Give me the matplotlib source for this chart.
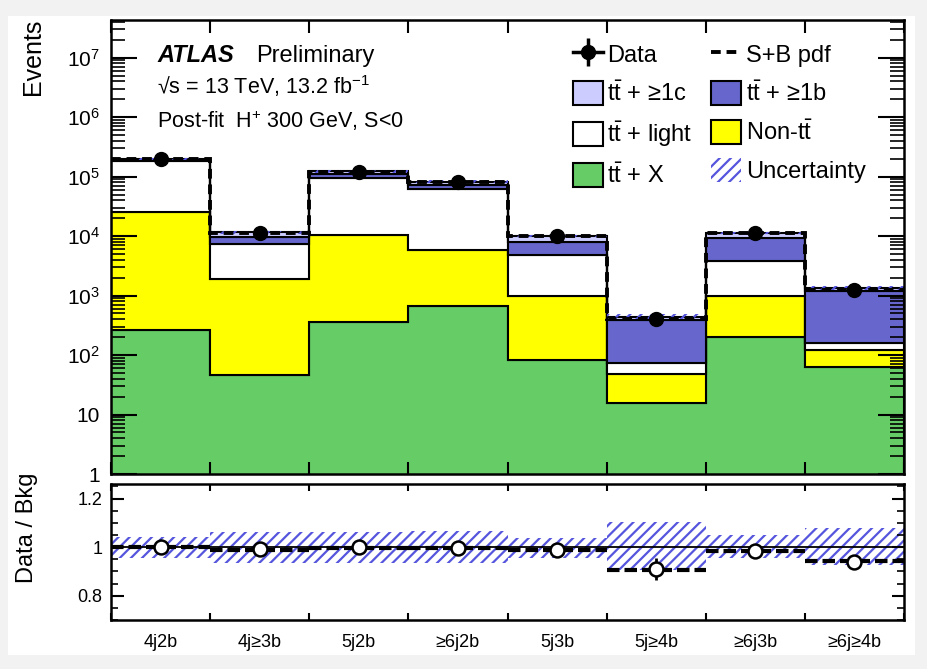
import numpy as np
import matplotlib.pyplot as plt
from matplotlib.lines import Line2D
from matplotlib.patches import Patch, Rectangle
from matplotlib.ticker import LogLocator, FixedLocator, MultipleLocator, FuncFormatter, NullFormatter

plt.rcParams['font.family'] = ['Liberation Sans', 'DejaVu Sans']
plt.rcParams['mathtext.fontset'] = 'custom'
plt.rcParams['mathtext.rm'] = 'Liberation Sans'
plt.rcParams['mathtext.it'] = 'Liberation Sans:italic'
plt.rcParams['mathtext.bf'] = 'Liberation Sans:bold'
plt.rcParams['hatch.linewidth'] = 1.6

# analysis regions and post-fit yields
regions = ['4j2b', '4j≥3b', '5j2b', '≥6j2b', '5j3b', '5j≥4b', '≥6j3b', '≥6j≥4b']
tt_x = [265, 46, 357, 660, 83, 15.6, 200, 63]
non_tt = [24700, 1850, 9900, 5140, 900, 32, 780, 59]
tt_light = [157000, 5500, 83700, 56200, 3800, 25, 2800, 38]
tt_b = [10000, 2200, 16000, 10000, 3100, 315, 5400, 1040]
tt_c = [8000, 1900, 12000, 10000, 2100, 52, 2200, 130]
data = [200000, 11390, 121800, 81800, 9870, 400, 11180, 1250]
sb_over_bkg = [1.0, 0.99, 0.998, 0.998, 0.987, 0.906, 0.985, 0.944]
unc_lo = [0.955, 0.933, 0.935, 0.935, 0.957, 0.905, 0.957, 0.926]
unc_hi = [1.042, 1.063, 1.063, 1.065, 1.036, 1.104, 1.050, 1.077]
decades = [1, 10, 1e2, 1e3, 1e4, 1e5, 1e6, 1e7]

C_X = '#66cc66'
C_NONTT = '#ffff00'
C_LIGHT = 'white'
C_B = '#6666cc'
C_C = '#ccccff'
C_HATCH = '#5555dd'

n = len(regions)
edges = np.arange(n + 1)
centers = edges[:-1] + 0.5
data = np.array(data, dtype=float)

fig = plt.figure(figsize=(9.27, 6.69), dpi=100, facecolor='#f2f2f2')
fig.patches.append(Rectangle((8 / 927, 1 - 655 / 669), 907 / 927, 639 / 669,
                             transform=fig.transFigure, facecolor='white',
                             edgecolor='none', zorder=-1))

ax1 = fig.add_axes([111 / 927, 1 - 474 / 669, 793 / 927, 454 / 669])
ax2 = fig.add_axes([111 / 927, 1 - 620 / 669, 793 / 927, 136 / 669])

# stacked backgrounds
cum = np.zeros(n)
for vals, col in [(tt_x, C_X), (non_tt, C_NONTT), (tt_light, C_LIGHT),
                  (tt_b, C_B), (tt_c, C_C)]:
    top = cum + np.array(vals)
    ax1.stairs(top, edges, baseline=np.maximum(cum, 0.1), fill=True,
               facecolor=col, edgecolor='black', linewidth=1.5)
    cum = top
total = cum

ax1.stairs(total * np.array(unc_hi), edges, baseline=total * np.array(unc_lo),
           fill=True, facecolor='none', edgecolor=C_HATCH, hatch='///', linewidth=0)
ax1.stairs(total * np.array(sb_over_bkg), edges, baseline=None,
           color='black', linestyle=(0, (2.5, 1.5)), linewidth=2.8)
ax1.errorbar(centers, data, yerr=np.sqrt(data), fmt='o', color='black',
             ms=10, elinewidth=2, capsize=0, zorder=5)

ax1.set_xlim(0, n)
ax1.set_yscale('log')
ax1.set_ylim(1, 4.3e7)
ax1.set_xticks(edges)
ax1.tick_params(axis='x', which='both', direction='in', top=True,
                length=9, width=1.5, labelbottom=False)
ax1.yaxis.set_major_locator(FixedLocator(decades))
ax1.yaxis.set_minor_locator(LogLocator(base=10, subs=np.arange(2, 10), numticks=20))
ax1.yaxis.set_minor_formatter(NullFormatter())


def log_label(v, pos):
    e = int(round(np.log10(v)))
    if e == 0:
        return '1'
    if e == 1:
        return '10'
    return r'$10^{%d}$' % e


ax1.yaxis.set_major_formatter(FuncFormatter(log_label))
ax1.tick_params(axis='y', which='major', direction='in', right=True,
                length=19, width=1.5, labelsize=15, pad=8)
ax1.tick_params(axis='y', which='minor', direction='in', right=True,
                length=10, width=1.2)
for sp in ax1.spines.values():
    sp.set_linewidth(1.8)

# ratio panel
ratio = data / total
ax2.stairs(unc_hi, edges, baseline=unc_lo, fill=True, facecolor='none',
           edgecolor=C_HATCH, hatch='///', linewidth=0)
ax2.axhline(1, color='black', linewidth=1.3)
ax2.hlines(sb_over_bkg, edges[:-1], edges[1:], colors='black',
           linestyles=(0, (3, 1.2)), linewidth=3)
ax2.errorbar(centers, ratio, yerr=np.sqrt(data) / total, fmt='o', color='black',
             mfc='white', mec='black', mew=1.8, ms=10, elinewidth=2, capsize=0, zorder=5)

ax2.set_xlim(0, n)
ax2.set_ylim(0.7, 1.26)
ax2.set_xticks(edges)
ax2.set_xticklabels([])
ax2.set_xticks(centers, labels=regions, minor=True)
ax2.tick_params(axis='x', which='major', direction='in', top=True, length=5, width=1.5)
ax2.tick_params(axis='x', which='minor', length=0, labelsize=13, pad=10)
ax2.yaxis.set_major_locator(FixedLocator([0.8, 1.0, 1.2]))
ax2.yaxis.set_minor_locator(MultipleLocator(0.05))
ax2.yaxis.set_major_formatter(FuncFormatter(lambda v, p: f'{v:g}'))
ax2.yaxis.set_minor_formatter(NullFormatter())
ax2.tick_params(axis='y', which='major', direction='in', right=True,
                length=9, width=1.5, labelsize=13, pad=6)
ax2.tick_params(axis='y', which='minor', direction='in', right=True,
                length=5, width=1.2)
for sp in ax2.spines.values():
    sp.set_linewidth(1.8)

# labels and annotations
fig.text(33 / 927, 1 - 19 / 669, 'Events', rotation=90, ha='center', va='top', fontsize=18)
fig.text(27 / 927, 1 - 528 / 669, 'Data / Bkg', rotation=90, ha='center', va='center', fontsize=17)
fig.text(157 / 927, 1 - 62 / 669, 'ATLAS', fontsize=17, fontweight='bold',
         fontstyle='italic', va='baseline')
fig.text(256 / 927, 1 - 62 / 669, 'Preliminary', fontsize=17, va='baseline')
fig.text(157 / 927, 1 - 94 / 669, r'√s = 13 TeV, 13.2 fb$^{-1}$', fontsize=15.5, va='baseline')
fig.text(157 / 927, 1 - 128 / 669, r'Post-fit  H$^{+}$ 300 GeV, S<0', fontsize=15.5, va='baseline')

tt = r'$\mathrm{t\bar{t}}$'
handles = [
    (Line2D([], [], color='black', lw=2.5, marker='o', ms=10),
     Line2D([], [], ls='none', marker='|', ms=20, mew=2.5, color='black')),
    Patch(facecolor=C_C, edgecolor='black', lw=1.5),
    Patch(facecolor=C_LIGHT, edgecolor='black', lw=1.5),
    Patch(facecolor=C_X, edgecolor='black', lw=1.5),
    Line2D([], [], color='black', lw=2.8, linestyle=(0, (2.5, 1.5))),
    Patch(facecolor=C_B, edgecolor='black', lw=1.5),
    Patch(facecolor=C_NONTT, edgecolor='black', lw=1.5),
    Patch(facecolor='none', edgecolor=C_HATCH, hatch='///', lw=0),
]
labels = ['Data', tt + ' + ≥1c', tt + ' + light', tt + ' + X',
          'S+B pdf', tt + ' + ≥1b', 'Non-' + tt, 'Uncertainty']
fig.legend(handles, labels, ncol=2, loc='upper left',
           bbox_to_anchor=(573 / 927, 1 - 42 / 669), frameon=False, fontsize=17,
           handlelength=1.25, handleheight=1.2, handletextpad=0.2,
           labelspacing=0.58, columnspacing=0.8, borderaxespad=0, borderpad=0)

fig.savefig('out.png', dpi=100, facecolor=fig.get_facecolor())
